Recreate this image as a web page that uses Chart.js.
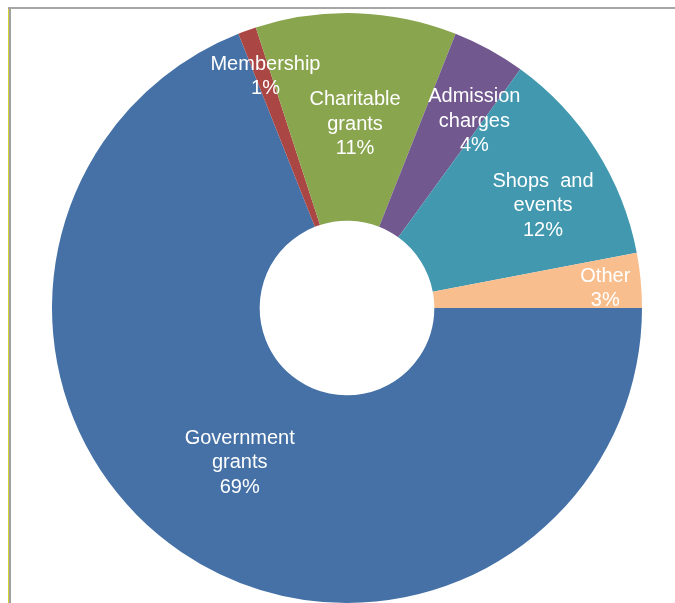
<!DOCTYPE html>
<html>
<head>
<meta charset="utf-8">
<script src="https://cdn.jsdelivr.net/npm/chart.js@4/dist/chart.umd.min.js"></script>
<style>
	body{margin:0;background:#fff;}
	#wrap{position:relative;width:675px;height:603px;overflow:hidden;}
	#frame{position:absolute;left:8px;top:7px;width:800px;height:800px;
		border-top:2px solid #a6a6a6;border-left:3px solid #a0a0a0;box-sizing:border-box;}
	#frame:before{content:'';position:absolute;left:-3px;top:0;width:1px;height:100%;background:#d4d430;}
	#myChart{position:absolute;left:0;top:0;}
</style>
</head>
<body>
<div id="wrap">
	<div id="frame"></div>
	<canvas id="myChart" width="675" height="603"></canvas>
</div>
<script>
// chart data
var categories = [['Government','grants'], ['Membership'], ['Charitable','grants'], ['Admission','charges'], ['Shops  and','events'], ['Other']];
var values = [69, 1, 11, 4, 12, 3];
var colors = ['#4571A7', '#AA4644', '#89A54E', '#71588F', '#4198AF', '#F9BE8E'];

// label placement (fraction of outer radius, angle shift in degrees)
var labelRadius = [0.639, 0.832, 0.624, 0.766, 0.749, 0.878];
var labelShift = [0.5, 0.4, 0.7, 5.5, 4.9, 1.1];

var sliceLabels = {
	id: 'sliceLabels',
	afterDatasetsDraw: function(chart){
		var ctx = chart.ctx;
		var meta = chart.getDatasetMeta(0);
		var total = values.reduce(function(a, b){ return a + b; }, 0);
		ctx.save();
		ctx.fillStyle = '#fff';
		ctx.font = '20px "Liberation Sans", Arial, sans-serif';
		ctx.textAlign = 'center';
		ctx.textBaseline = 'middle';
		for(var i = 0; i < meta.data.length; i++){
			var arc = meta.data[i];
			var mid = (arc.startAngle + arc.endAngle) / 2 + labelShift[i] * Math.PI / 180;
			var r = arc.outerRadius * labelRadius[i];
			var cx = arc.x + Math.cos(mid) * r;
			var cy = arc.y + Math.sin(mid) * r;
			var lines = categories[i].concat([Math.round(values[i] / total * 100) + '%']);
			var lh = 24.5;
			var y0 = cy - (lines.length - 1) * lh / 2;
			for(var j = 0; j < lines.length; j++){
				ctx.fillText(lines[j], cx, y0 + j * lh);
			}
		}
		ctx.restore();
	}
};

var ctx = document.getElementById('myChart');
var myChart = new Chart(ctx, {
	type: 'doughnut',
	data: {
		labels: categories.map(function(c){ return c.join(' '); }),
		datasets: [{
			data: values,
			backgroundColor: colors,
			borderWidth: 0
		}]
	},
	options: {
		responsive: false,
		animation: false,
		rotation: 90,
		cutout: '29.6%',
		layout: { padding: { left: 52, right: 33, top: 13, bottom: 0 } },
		plugins: {
			legend: { display: false },
			tooltip: { enabled: false }
		}
	},
	plugins: [sliceLabels]
});
</script>
</body>
</html>
